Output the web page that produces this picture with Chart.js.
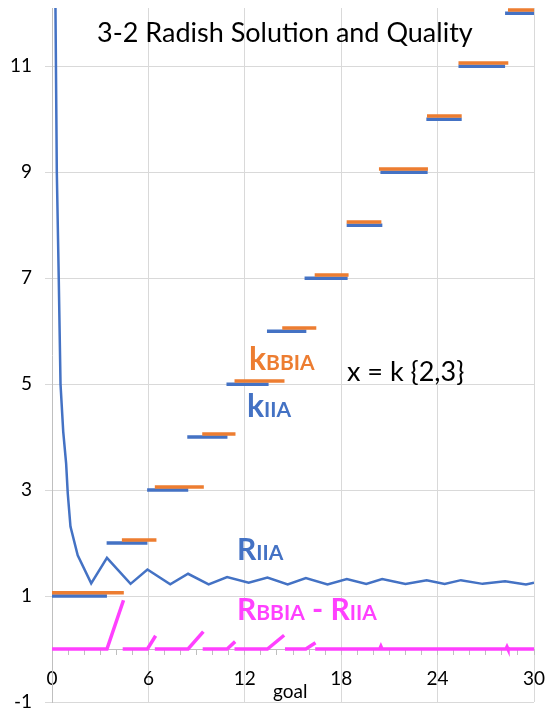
<!DOCTYPE html>
<html>
<head>
<meta charset="utf-8">
<script src="https://cdn.jsdelivr.net/npm/chart.js@4/dist/chart.umd.min.js"></script>
<style>
  html, body { margin: 0; padding: 0; background: #fff; }
  #wrap { width: 545px; height: 713px; }
</style>
</head>
<body>
<div id="wrap"><canvas id="chart" width="545" height="713"></canvas></div>
<script>
// ===== DATA =====
// R_IIA curve (goal -> ratio)
const riiaX = [0.21, 0.3, 0.42, 0.53, 0.7, 0.88, 0.98, 1.15, 1.6, 2.44, 3.42, 4.89, 5.94, 7.36, 8.47,
    9.75, 10.9, 12.24, 13.41, 14.67, 15.8, 17.15, 18.35, 19.56, 20.55, 22.0, 23.32, 24.44, 25.45,
    26.8, 28.2, 29.5, 30];
const riiaY = [12.3, 9.0, 7.0, 5.0, 4.1, 3.5, 2.94, 2.31, 1.77, 1.24, 1.72, 1.23, 1.5, 1.22, 1.42,
    1.22, 1.36, 1.25, 1.35, 1.22, 1.34, 1.22, 1.32, 1.23, 1.32, 1.23, 1.30, 1.23, 1.30,
    1.23, 1.28, 1.22, 1.25];

// k steps
const kLevels = [1, 2, 3, 4, 5, 6, 7, 8, 9, 10, 11, 12];
const kIIAStart = [0, 3.40, 5.92, 8.42, 10.86, 13.38, 15.72, 18.34, 20.44, 23.30, 25.30, 28.20];
const kIIAEnd = [3.42, 5.94, 8.48, 10.92, 13.48, 15.83, 18.40, 20.56, 23.38, 25.50, 28.20, 30];
const kBBIAStart = [0, 4.35, 6.40, 9.35, 11.36, 14.33, 16.35, 18.34, 20.35, 23.34, 25.30, 28.38];
const kBBIAEnd = [4.47, 6.50, 9.45, 11.42, 14.47, 16.45, 18.46, 20.50, 23.40, 25.50, 28.40, 30];
const kBBIAOffset = 0.06;

// R_BBIA - R_IIA (null = break)
const diffX = [0, 3.42, 4.45, null, 4.40, 5.94, 6.45, null, 6.40, 8.47, 9.42, null,
    9.38, 10.90, 11.40, null, 11.36, 13.41, 14.45, null, 14.50, 15.80, 16.40, null,
    16.38, 20.40, 20.47, 20.54, 28.26, 28.32, 28.38, 30];
const diffY = [0, 0, 0.92, null, 0, 0, 0.25, null, 0, 0, 0.33, null,
    0, 0, 0.14, null, 0, 0, 0.26, null, 0, 0, 0.12, null,
    0, 0, 0.05, 0, 0, 0.04, 0, 0];

const xTicks = [0, 6, 12, 18, 24, 30];
const yTicks = [-1, 1, 3, 5, 7, 9, 11];

const BLUE = '#4472C4';
const ORANGE = '#ED7D31';
const MAGENTA = '#FF40FF';
const FONT = 'Lato, "DejaVu Sans", sans-serif';

// ===== HELPERS =====
function zipPoints(xs, ys) {
    return xs.map((x, i) => ({ x: x === null ? NaN : x, y: ys[i] }));
}

function stepPoints(starts, ends, offset) {
    const pts = [];
    kLevels.forEach((k, i) => {
        pts.push({ x: starts[i], y: k + offset });
        pts.push({ x: ends[i], y: k + offset });
        pts.push({ x: ends[i], y: null });
    });
    return pts;
}

function noPadding(scale) {
    scale.paddingLeft = 0;
    scale.paddingRight = 0;
    scale.paddingTop = 0;
    scale.paddingBottom = 0;
}

// ===== TEXT NOTES =====
const notes = [
    { parts: [['3-2 Radish Solution and Quality', 27]], color: '#000', bold: false, x: 97, y: 42 },
    { parts: [['k', 32], ['BBIA', 21]], color: ORANGE, bold: true, x: 249, y: 370 },
    { parts: [['k', 32], ['IIA', 21]], color: BLUE, bold: true, x: 247, y: 417 },
    { parts: [['x = k {2,3}', 27]], color: '#000', bold: false, x: 347, y: 381 },
    { parts: [['R', 30], ['IIA', 21]], color: BLUE, bold: true, x: 237, y: 560 },
    { parts: [['R', 30], ['BBIA', 21], [' - ', 30], ['R', 30], ['IIA', 21]], color: MAGENTA, bold: true, x: 237, y: 620 },
    { parts: [['goal', 19]], color: '#000', bold: false, x: 273, y: 698 }
];

const notesPlugin = {
    id: 'notes',
    afterDraw(chart) {
        const ctx = chart.ctx;
        ctx.save();
        ctx.textBaseline = 'alphabetic';
        ctx.textAlign = 'left';
        notes.forEach(n => {
            let x = n.x;
            ctx.fillStyle = n.color;
            n.parts.forEach(([txt, size]) => {
                ctx.font = (n.bold ? 'bold ' : '') + size + 'px ' + FONT;
                ctx.fillText(txt, x, n.y);
                x += ctx.measureText(txt).width;
            });
        });
        ctx.restore();
    }
};

// ===== CHART =====
new Chart(document.getElementById('chart'), {
    type: 'line',
    data: {
        datasets: [
            {
                label: 'RBBIA - RIIA',
                data: zipPoints(diffX, diffY),
                borderColor: MAGENTA,
                borderWidth: 3.5,
                pointRadius: 0,
                tension: 0,
                spanGaps: false,
                order: 1
            },
            {
                label: 'kBBIA',
                data: stepPoints(kBBIAStart, kBBIAEnd, kBBIAOffset),
                borderColor: ORANGE,
                borderWidth: 3.5,
                pointRadius: 0,
                spanGaps: false,
                order: 2
            },
            {
                label: 'kIIA',
                data: stepPoints(kIIAStart, kIIAEnd, 0),
                borderColor: BLUE,
                borderWidth: 3.5,
                pointRadius: 0,
                spanGaps: false,
                order: 3
            },
            {
                label: 'RIIA',
                data: zipPoints(riiaX, riiaY),
                borderColor: BLUE,
                borderWidth: 2.5,
                pointRadius: 0,
                tension: 0,
                order: 4
            }
        ]
    },
    options: {
        responsive: false,
        animation: false,
        devicePixelRatio: 1,
        layout: { padding: { top: 8, right: 11, bottom: 11, left: 0 } },
        plugins: {
            legend: { display: false },
            title: { display: false },
            tooltip: { enabled: false }
        },
        scales: {
            x: {
                type: 'linear',
                min: 0,
                max: 30,
                position: { y: 0 },
                afterBuildTicks: scale => {
                    const t = [];
                    for (let v = 0; v <= 30; v++) t.push({ value: v });
                    scale.ticks = t;
                },
                afterFit: noPadding,
                ticks: {
                    autoSkip: false,
                    maxRotation: 0,
                    padding: 13,
                    color: '#000',
                    font: { family: FONT, size: 19 },
                    callback: v => xTicks.includes(v) ? String(v) : ''
                },
                grid: {
                    color: c => (c.tick && c.tick.value % 6 === 0 && c.tick.value !== 0) ? '#d9d9d9' : 'rgba(0,0,0,0)',
                    tickColor: '#bfbfbf',
                    tickLength: 5,
                    lineWidth: 1
                },
                border: { color: '#bfbfbf', width: 1 }
            },
            y: {
                min: -1,
                max: 12.1,
                afterBuildTicks: scale => {
                    scale.ticks = yTicks.map(v => ({ value: v }));
                },
                afterFit: scale => {
                    scale.width = 52;
                    noPadding(scale);
                },
                ticks: {
                    padding: 13,
                    color: '#000',
                    font: { family: FONT, size: 19 }
                },
                grid: {
                    color: '#d9d9d9',
                    tickColor: '#d9d9d9',
                    tickLength: 7,
                    lineWidth: 1
                },
                border: { color: '#bfbfbf', width: 1 }
            }
        }
    },
    plugins: [notesPlugin]
});
</script>
</body>
</html>
